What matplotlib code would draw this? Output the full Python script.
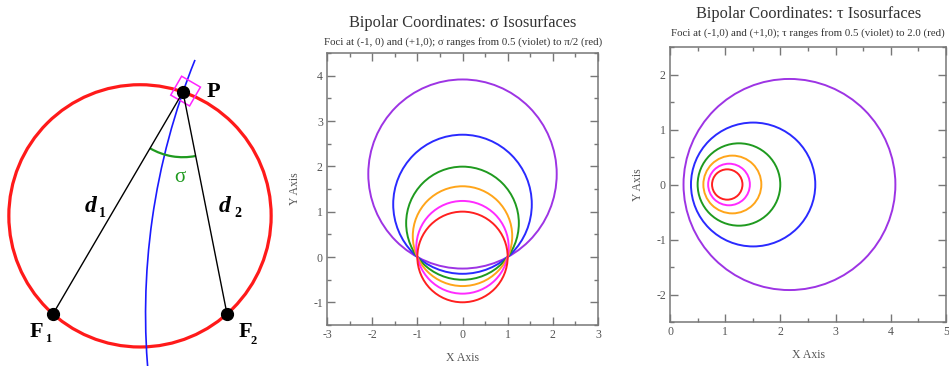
import numpy as np
import matplotlib
matplotlib.use("Agg")
import matplotlib.pyplot as plt
from matplotlib.patches import Circle, Arc, Rectangle
from matplotlib.ticker import MultipleLocator
import matplotlib.transforms as mtransforms

plt.rcParams["axes.unicode_minus"] = False

# isosurface parameters and their colours (violet -> red)
sigma_vals = [0.5, 0.71, 0.93, 1.14, 1.36, 1.57]
tau_vals = [0.5, 0.8, 1.1, 1.4, 1.7, 2.0]
iso_colors = ["#9d34e4", "#2a2aff", "#1f9a1f", "#ffa51a", "#ff2bff", "#ff2020"]

# sketch: foci on the x axis and a point P on a sigma circle
foci_x = [-1.0, 1.0]
point_p = (0.494, 2.552)
blue_top_y = 2.92

SERIF = "Liberation Serif"
GRAY = "#555555"

fig = plt.figure(figsize=(9.49, 3.66), dpi=100)
W, H = 949.0, 366.0


def px_axes(left, top, right, bottom):
    return fig.add_axes([left / W, 1 - bottom / H, (right - left) / W, (bottom - top) / H])


# ---------------- left: sketch of sigma geometry ----------------
ax0 = px_axes(0, 0, 290, 366)
ax0.set_xlim(-1.609, 1.724)
ax0.set_ylim(-0.598, 3.609)
ax0.axis("off")

px, py = point_p
# sigma circle through both foci and P
k = (px**2 + py**2 - 1) / (2 * py)
r_sig = np.hypot(1.0, k)
ax0.add_patch(Circle((0, k), r_sig, fill=False, color="#ff1a1a", lw=2.3))

# tau circle through P (orthogonal to the sigma circle)
c = (px**2 + py**2 + 1) / (2 * px)
r_tau = np.sqrt(c**2 - 1)
th_top = 180 - np.degrees(np.arcsin(blue_top_y / r_tau))
th_bot = 180 + np.degrees(np.arcsin(0.8 / r_tau))
ax0.add_patch(Arc((c, 0), 2 * r_tau, 2 * r_tau, theta1=th_top, theta2=th_bot,
                  color="#1a1aff", lw=1.2))

for fx in foci_x:
    ax0.plot([px, fx], [py, 0], color="black", lw=1.0)

# angle sigma at P
a1 = np.degrees(np.arctan2(-py, foci_x[0] - px))
a2 = np.degrees(np.arctan2(-py, foci_x[1] - px))
ax0.add_patch(Arc((px, py), 1.5, 1.5, theta1=a1 % 360, theta2=a2 % 360,
                  color="#1f9a1f", lw=1.6))

# small square marking P
sq = 0.25
sx, sy = px + 0.03, py + 0.01
rect = Rectangle((sx - sq / 2, sy - sq / 2), sq, sq, fill=False, color="#ff22ff", lw=1.1)
rect.set_transform(mtransforms.Affine2D().rotate_deg_around(sx, sy, -30) + ax0.transData)
ax0.add_patch(rect)

ax0.plot([px] + foci_x, [py, 0, 0], "o", color="black", ms=8.5, zorder=5)

bold = dict(family=SERIF, fontweight="bold", color="black", ha="center", va="center")
ax0.text(0.845, 2.55, "P", fontsize=16, **bold)
ax0.text(-1.19, -0.21, "F", fontsize=16, **bold)
ax0.text(-1.055, -0.29, "1", fontsize=9, **bold)
ax0.text(1.21, -0.21, "F", fontsize=16, **bold)
ax0.text(1.31, -0.31, "2", fontsize=9, **bold)
ax0.text(-0.57, 1.24, "d", fontsize=17, style="italic", **bold)
ax0.text(-0.43, 1.15, "1", fontsize=10, **bold)
ax0.text(0.97, 1.24, "d", fontsize=17, style="italic", **bold)
ax0.text(1.12, 1.15, "2", fontsize=10, **bold)
ax0.text(0.46, 1.57, "σ", fontsize=15, family=SERIF, color="#1f9a1f",
         ha="center", va="center")


def style_axes(ax):
    for s in ax.spines.values():
        s.set_color("#777777")
        s.set_linewidth(1.1)
    ax.xaxis.set_minor_locator(MultipleLocator(0.5))
    ax.yaxis.set_minor_locator(MultipleLocator(0.5))
    ax.xaxis.set_major_locator(MultipleLocator(1))
    ax.yaxis.set_major_locator(MultipleLocator(1))
    ax.tick_params(which="both", direction="in", top=True, right=True,
                   color="#777777", width=1.0, labelsize=8.5, labelcolor=GRAY, pad=3)
    ax.tick_params(which="major", length=6)
    ax.tick_params(which="minor", length=3)
    for lab in ax.get_xticklabels() + ax.get_yticklabels():
        lab.set_family(SERIF)
    ax.set_xlabel("X Axis", family=SERIF, fontsize=8.5, color=GRAY, labelpad=8)
    ax.set_ylabel("Y Axis", family=SERIF, fontsize=8.5, color=GRAY, labelpad=9)


# ---------------- middle: sigma isosurfaces ----------------
ax1 = px_axes(327, 53, 598, 325)
for s, col in zip(sigma_vals, iso_colors):
    ax1.add_patch(Circle((0, 1 / np.tan(s)), 1 / np.sin(s), fill=False, color=col, lw=1.4))
ax1.set_xlim(-3, 3)
ax1.set_ylim(-1.5, 4.5)
style_axes(ax1)

fig.text(463 / W, 1 - 23 / H, "Bipolar Coordinates: σ Isosurfaces", family=SERIF,
         fontsize=11.8, color="#333333", ha="center", va="center")
fig.text(463 / W, 1 - 42 / H,
         "Foci at (-1, 0) and (+1,0); σ ranges from 0.5 (violet) to π/2 (red)",
         family=SERIF, fontsize=7.8, color="#333333", ha="center", va="center")

# ---------------- right: tau isosurfaces ----------------
ax2 = px_axes(670, 47, 946, 322)
for t, col in zip(tau_vals, iso_colors):
    ax2.add_patch(Circle((1 / np.tanh(t), 0), 1 / np.sinh(t), fill=False, color=col, lw=1.4))
ax2.set_xlim(0, 5)
ax2.set_ylim(-2.5, 2.5)
style_axes(ax2)

fig.text(809 / W, 1 - 14 / H, "Bipolar Coordinates: τ Isosurfaces", family=SERIF,
         fontsize=11.8, color="#333333", ha="center", va="center")
fig.text(808 / W, 1 - 33 / H,
         "Foci at (-1,0) and (+1,0); τ ranges from 0.5 (violet) to 2.0 (red)",
         family=SERIF, fontsize=7.8, color="#333333", ha="center", va="center")

fig.savefig("out.png", dpi=100)
